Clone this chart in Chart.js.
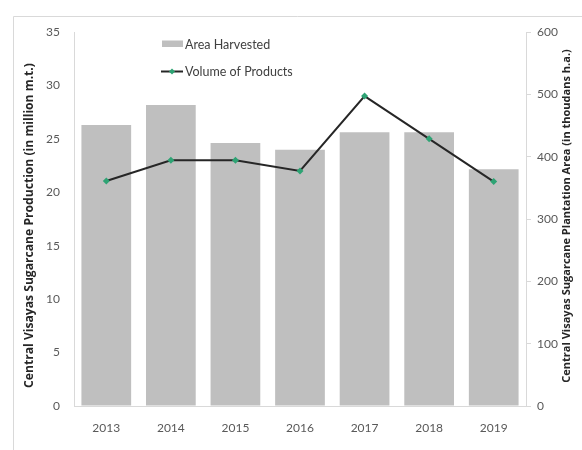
<!DOCTYPE html>
<html>
<head>
<meta charset="utf-8">
<script src="https://cdn.jsdelivr.net/npm/chart.js@4/dist/chart.umd.min.js"></script>
<style>
html,body{margin:0;padding:0;background:#fff;}
#wrap{position:relative;width:582px;height:450px;}
</style>
</head>
<body>
<div id="wrap"><canvas id="c" width="582" height="450"></canvas></div>
<script>
const categories = ['2013','2014','2015','2016','2017','2018','2019'];
const areaHarvested = [451, 483, 422, 411, 439, 439, 380];      // thousands h.a. (right axis)
const volumeProducts = [21.05, 23.0, 23.0, 22.0, 29.0, 25.0, 21.0]; // million m.t. (left axis)
const leftTitle = 'Central Visayas Sugarcane Production (in million m.t.)';
const rightTitle = 'Central Visayas Sugarcane Plantation Area (in thoudans h.a.)';

const FONT = 'Lato, "Open Sans", sans-serif';
const TITLE_FONT = '"Open Sans", Lato, sans-serif';
const AXIS = '#d9d9d9';
const TICK = '#595959';

function fitFont(ctx, text, target) {
  ctx.font = 'bold 10px ' + TITLE_FONT;
  const w = ctx.measureText(text).width;
  const size = 10 * target / w;
  return 'bold ' + size.toFixed(2) + 'px ' + TITLE_FONT;
}

const decor = {
  id: 'decor',
  beforeDraw(chart) {
    const ctx = chart.ctx;
    ctx.save();
    ctx.strokeStyle = AXIS;
    ctx.lineWidth = 1;
    ctx.beginPath();
    ctx.moveTo(13.5, 450);
    ctx.lineTo(13.5, 16.5);
    ctx.lineTo(582, 16.5);
    ctx.stroke();
    ctx.restore();
  },
  afterDraw(chart) {
    const ctx = chart.ctx;
    ctx.save();
    ctx.fillStyle = '#262626';
    ctx.textAlign = 'center';
    ctx.textBaseline = 'middle';
    ctx.save();
    ctx.font = fitFont(ctx, leftTitle, 325);
    ctx.translate(30, 225.5);
    ctx.rotate(-Math.PI / 2);
    ctx.fillText(leftTitle, 0, 0);
    ctx.restore();
    ctx.save();
    ctx.font = fitFont(ctx, rightTitle, 334);
    ctx.translate(567, 216);
    ctx.rotate(-Math.PI / 2);
    ctx.fillText(rightTitle, 0, 0);
    ctx.restore();

    // legend
    const ds = chart.data.datasets;
    const bar = ds.find(d => d.type === 'bar');
    const line = ds.find(d => d.type === 'line');
    ctx.font = '12.5px ' + FONT;
    ctx.textAlign = 'left';
    ctx.fillStyle = bar.backgroundColor;
    ctx.fillRect(162, 40.5, 21, 6.5);
    ctx.fillStyle = '#404040';
    ctx.fillText(bar.label, 185, 44.5);
    ctx.strokeStyle = line.borderColor;
    ctx.lineWidth = 2;
    ctx.beginPath();
    ctx.moveTo(161, 71.5);
    ctx.lineTo(183, 71.5);
    ctx.stroke();
    ctx.fillStyle = line.pointBackgroundColor;
    ctx.beginPath();
    ctx.moveTo(172, 68.5); ctx.lineTo(175, 71.5); ctx.lineTo(172, 74.5); ctx.lineTo(169, 71.5);
    ctx.closePath();
    ctx.fill();
    ctx.fillStyle = '#404040';
    ctx.fillText(line.label, 185, 71.5);
    ctx.restore();
  }
};

new Chart(document.getElementById('c'), {
  data: {
    labels: categories,
    datasets: [
      {
        type: 'line',
        label: 'Volume of Products',
        data: volumeProducts,
        yAxisID: 'y',
        borderColor: '#262626',
        borderWidth: 2,
        pointStyle: 'rectRot',
        pointRadius: 3.5,
        pointBackgroundColor: '#2ea374',
        pointBorderColor: '#2ea374',
        pointBorderWidth: 0,
        tension: 0,
        order: 0
      },
      {
        type: 'bar',
        label: 'Area Harvested',
        data: areaHarvested,
        yAxisID: 'y1',
        backgroundColor: '#bfbfbf',
        categoryPercentage: 1,
        barPercentage: 0.77,
        order: 1
      }
    ]
  },
  options: {
    responsive: false,
    animation: false,
    events: [],
    layout: { padding: { top: 32, left: 0, right: 0, bottom: 0 } },
    plugins: { legend: { display: false }, tooltip: { enabled: false } },
    scales: {
      x: {
        grid: { display: false, drawTicks: false },
        border: { display: true, color: AXIS, width: 1 },
        ticks: { color: TICK, font: { family: FONT, size: 12 }, padding: 15, maxRotation: 0 },
        afterFit(s) { s.height = 44; }
      },
      y: {
        position: 'left',
        min: 0, max: 35,
        grid: { drawOnChartArea: false, drawTicks: false },
        border: { display: true, color: AXIS, width: 1 },
        ticks: { stepSize: 5, color: TICK, font: { family: FONT, size: 12 }, padding: 14 },
        afterFit(s) { s.width = 74; }
      },
      y1: {
        position: 'right',
        min: 0, max: 600,
        grid: { drawOnChartArea: false, drawTicks: true, tickLength: 5, color: AXIS },
        border: { display: true, color: AXIS, width: 1 },
        ticks: { stepSize: 100, color: TICK, font: { family: FONT, size: 12 }, padding: 6 },
        afterFit(s) { s.width = 56; }
      }
    }
  },
  plugins: [decor]
});
</script>
</body>
</html>
